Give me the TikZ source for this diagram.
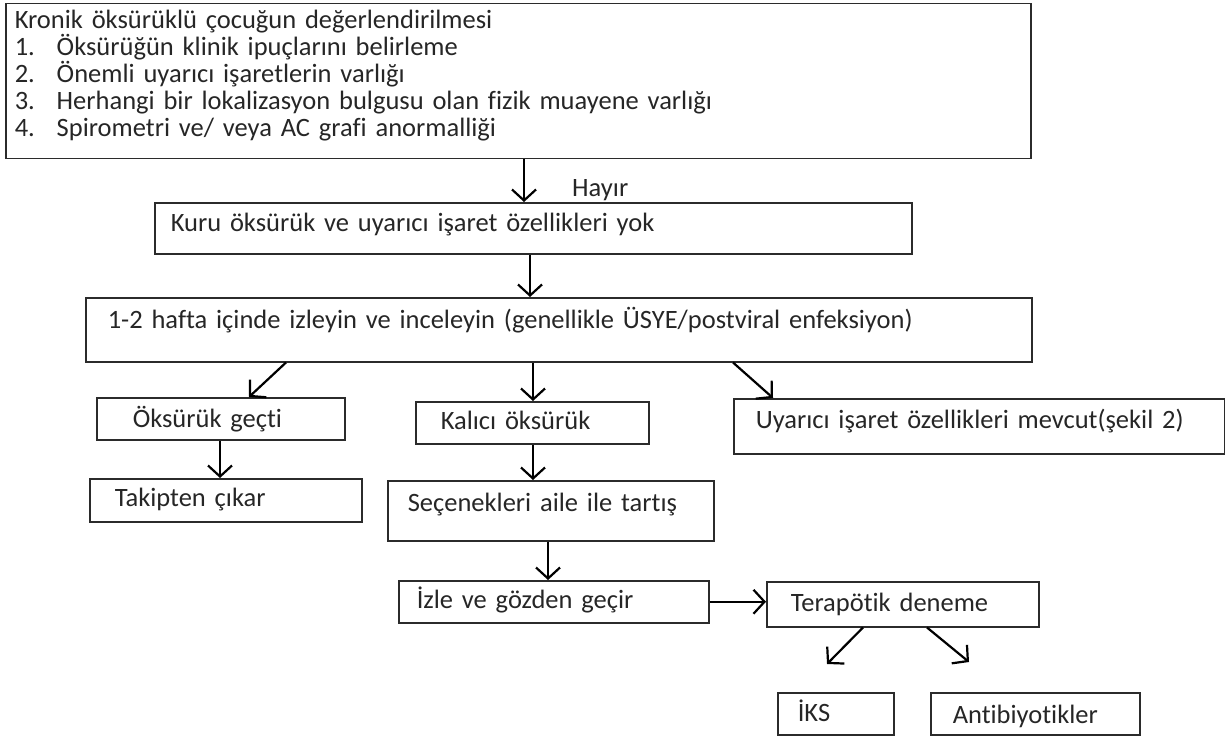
\documentclass[tikz,border=0pt]{standalone}
\usepackage{fontspec}
\setmainfont{Carlito}[Ligatures={NoCommon}]
\usetikzlibrary{arrows.meta}

\definecolor{cizgi}{HTML}{2B2B2B}
\definecolor{yazi}{HTML}{262626}

\tikzset{
  kutu/.style={draw=cizgi, line width=1.5pt, anchor=north west, inner xsep=0pt, inner ysep=0pt,
               align=left, text=yazi, font=\fontsize{26.5}{27}\selectfont},
  ok/.style={line width=2.2pt, -{Straight Barb[length=11pt,width=24pt]}}
}

% kutu: ad, x1, y1, x2, y2, sol bosluk, taban cizgisi, metin
\newcommand{\kutu}[8]{%
  \pgfmathsetmacro{\kgen}{#4-#2}%
  \pgfmathsetmacro{\kust}{#7-#3}%
  \pgfmathsetmacro{\kalt}{#5-#7}%
  \node[kutu, text width=\kgen pt, text height=\kust pt, text depth=\kalt pt] (#1) at (#2,#3) {\hspace*{#6pt}#8};%
}
\newcommand{\madde}[2]{\hspace*{9pt}\hbox to 42pt{#1\hfil}#2}

\begin{document}
\begin{tikzpicture}[x=1pt,y=-1pt]

\useasboundingbox (0,0) rectangle (1225,738);

% Kutular
\kutu{b1}{5}{3}{1030}{158}{9}{28}{Kronik öksürüklü çocuğun değerlendirilmesi\\
  \madde{1.}{Öksürüğün klinik ipuçlarını belirleme}\\
  \madde{2.}{Önemli uyarıcı işaretlerin varlığı}\\
  \madde{3.}{Herhangi bir lokalizasyon bulgusu olan fizik muayene varlığı}\\
  \madde{4.}{Spirometri ve/ veya AC grafi anormalliği}}
\kutu{b2}{154}{202}{911}{253}{16}{231}{Kuru öksürük ve uyarıcı işaret özellikleri yok}
\kutu{b3}{85}{297}{1031}{361}{22}{328}{1-2 hafta içinde izleyin ve inceleyin (genellikle ÜSYE/postviral enfeksiyon)}
\kutu{b4}{96}{397}{344}{439}{36}{427}{Öksürük geçti}
\kutu{b5}{415}{401}{648}{443}{25}{429}{Kalıcı öksürük}
\kutu{b6}{733}{398}{1224}{453}{22}{428}{Uyarıcı işaret özellikleri mevcut(şekil 2)}
\kutu{b7}{89}{478}{361}{521}{25}{506}{Takipten çıkar}
\kutu{b8}{387}{480}{713}{540}{20}{511}{Seçenekleri aile ile tartış}
\kutu{b9}{398}{580}{708}{622}{18}{608}{İzle ve gözden geçir}
\kutu{b10}{766}{581}{1038}{626}{24}{611}{Terapötik deneme}
\kutu{b11}{777}{692}{893}{734}{20}{721}{İKS}
\kutu{b12}{930}{692}{1139}{734}{22}{723}{Antibiyotikler}

\node[anchor=west, inner sep=0pt, text=yazi, font=\fontsize{26.5}{27}\selectfont] (hayir) at (572,190) {Hayır};

% Oklar
\draw[ok] ([xshift=519pt]b1.south west) -- ([xshift=370pt]b2.north west);
\draw[ok] ([xshift=376pt]b2.south west) -- ([xshift=445pt]b3.north west);
\draw[ok] ([xshift=201pt]b3.south west) -- ([xshift=153pt]b4.north west);
\draw[ok] ([xshift=448pt]b3.south west) -- ([xshift=118pt]b5.north west);
\draw[ok] ([xshift=648pt]b3.south west) -- ([xshift=40pt]b6.north west);
\draw[ok] ([xshift=124pt]b4.south west) -- ([xshift=131pt]b7.north west);
\draw[ok] ([xshift=118pt]b5.south west) -- ([xshift=146pt]b8.north west);
\draw[ok] ([xshift=161pt]b8.south west) -- ([xshift=150pt]b9.north west);
\draw[ok] (b9.east) -- (b9.east -| b10.west);

% serbest uclu oklar
\coordinate (iksok) at (827,664);
\coordinate (abok) at (969,662);
\draw[ok] ([xshift=97pt]b10.south west) -- (iksok);
\draw[ok] ([xshift=161pt]b10.south west) -- (abok);

\end{tikzpicture}
\end{document}
